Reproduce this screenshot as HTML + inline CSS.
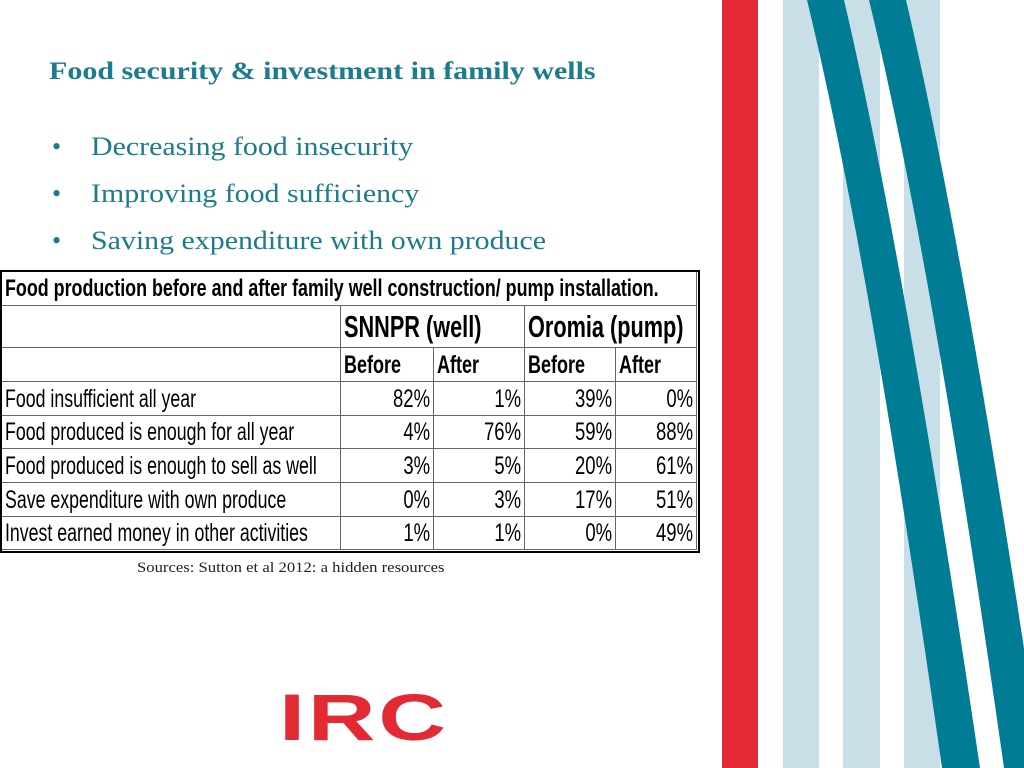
<!DOCTYPE html>
<html><head><meta charset="utf-8">
<style>
html,body{margin:0;padding:0;width:1024px;height:768px;overflow:hidden;background:#fff;position:relative}
.t{position:absolute;white-space:nowrap}
#title{left:49px;top:58px;font:bold 25px "Liberation Serif",serif;color:#1b7c8e;transform:scaleX(1.2);transform-origin:left top}
.bul{position:absolute;left:52px;font:26px "Liberation Serif",serif;color:#1b7c8e;white-space:nowrap}
.bul span{position:absolute;left:39px;transform:scaleX(1.15);transform-origin:left top}
#tbl{position:absolute;left:0;top:0}
.cell{position:absolute;box-sizing:border-box;border-right:1px solid #666;border-bottom:1px solid #666;overflow:visible}
.txt{position:absolute;font-family:"Liberation Sans",sans-serif;color:#000;white-space:nowrap}
</style></head>
<body>
<svg style="position:absolute;left:0;top:0" width="1024" height="768">
<rect x="722" y="0" width="36" height="768" fill="#e32934"/>
<rect x="783" y="0" width="36" height="768" fill="#c8dfe8"/>
<rect x="843" y="0" width="37" height="768" fill="#c8dfe8"/>
<rect x="904" y="0" width="36" height="768" fill="#c8dfe8"/>
<path d="M807 0 L844 0 Q905 260 980 768 L942 768 Q870 260 807 0 Z" fill="#007c94"/>
<path d="M869 0 L906 0 Q967 260 1042 768 L1004 768 Q932 260 869 0 Z" fill="#007c94"/>
</svg>
<div id="title" class="t">Food security &amp; investment in family wells</div>
<div class="bul" style="top:132px">•<span>Decreasing food insecurity</span></div>
<div class="bul" style="top:179px">•<span>Improving food sufficiency</span></div>
<div class="bul" style="top:226px">•<span>Saving expenditure with own produce</span></div>

<div id="tbl"></div>

<div class="t" style="left:137px;top:560px;font:15px 'Liberation Serif',serif;color:#222;transform:scaleX(1.11);transform-origin:left top">Sources: Sutton et al 2012: a hidden resources</div>

<div class="t" style="left:279px;top:679px;font:900 66px 'Liberation Sans',sans-serif;color:#e32934;transform:scaleX(1.42);transform-origin:left top;letter-spacing:2px;line-height:76px">IRC</div>

<script>
const rowLabels = ["Food insufficient all year","Food produced is enough for all year","Food produced is enough to sell as well","Save expenditure with own produce","Invest earned money in other activities"];
const snnprBefore = [82,4,3,0,1];
const snnprAfter = [1,76,5,3,1];
const oromiaBefore = [39,59,20,17,0];
const oromiaAfter = [0,88,61,51,49];
const groups = ["SNNPR (well)","Oromia (pump)"];
const subHeads = ["Before","After","Before","After"];
const tableTitle = "Food production before and after family well construction/ pump installation.";

const colX = [2,341,434,525,616,697];
const rowY = [271,306,348,382,416,449,483,517,550];
const tbl = document.getElementById('tbl');

function cell(x,y,w,h,name){
  const d=document.createElement('div');
  d.className='cell';
  d.style.cssText=`left:${x}px;top:${y}px;width:${w}px;height:${h}px`;
  
  
  tbl.appendChild(d);return d;
}
function txt(parent,s,size,bold,align,name,sx){
  const t=document.createElement('div');
  t.className='txt';
  t.textContent=s;
  t.style.fontSize=size+'px';
  if(bold)t.style.fontWeight='bold';
  const h=parseFloat(parent.style.height);
  t.style.top=(h/2 - size*0.58)+'px';
  if(align==='right'){t.style.right='3px';t.style.transformOrigin='right center';}
  else{t.style.left='3px';t.style.transformOrigin='left center';}
  t.style.transform=`scaleX(${sx})`;
  
  
  parent.appendChild(t);
}
let c=cell(colX[0],rowY[0],colX[5]-colX[0],rowY[1]-rowY[0],'table-title-cell');
txt(c,tableTitle,24,true,'left','table-title',0.745);
c=cell(colX[0],rowY[1],colX[1]-colX[0],rowY[2]-rowY[1],'group-header-blank');
for(let g=0;g<2;g++){
  c=cell(colX[1+g*2],rowY[1],colX[3+g*2]-colX[1+g*2],rowY[2]-rowY[1],'group-header-'+g);
  txt(c,groups[g],31,true,'left','group-label',0.7);
}
c=cell(colX[0],rowY[2],colX[1]-colX[0],rowY[3]-rowY[2],'subheader-blank');
for(let k=0;k<4;k++){
  c=cell(colX[1+k],rowY[2],colX[2+k]-colX[1+k],rowY[3]-rowY[2],'subheader-'+k);
  txt(c,subHeads[k],25,true,'left','subheader-label',0.72);
}
const series=[snnprBefore,snnprAfter,oromiaBefore,oromiaAfter];
for(let r=0;r<rowLabels.length;r++){
  const y=rowY[3+r],h=rowY[4+r]-y;
  c=cell(colX[0],y,colX[1]-colX[0],h,'row-label-cell');
  txt(c,rowLabels[r],25,false,'left','row-label',0.71);
  for(let k=0;k<4;k++){
    c=cell(colX[1+k],y,colX[2+k]-colX[1+k],h,'value-cell');
    txt(c,series[k][r]+'%',25,false,'right','value',0.74);
  }
}
const border=document.createElement('div');
border.style.cssText=`position:absolute;left:${colX[0]-2}px;top:${rowY[0]-1}px;width:${colX[5]-colX[0]+1}px;height:${rowY[8]-rowY[0]}px;border:2px solid #000;pointer-events:none`;


tbl.appendChild(border);
</script>
</body></html>
